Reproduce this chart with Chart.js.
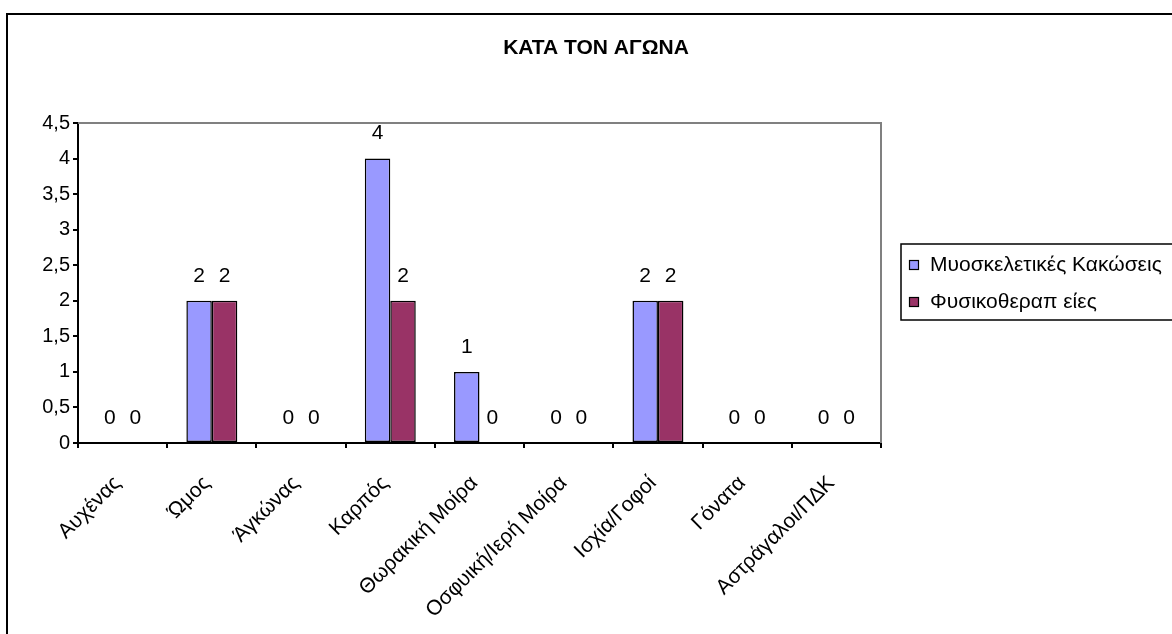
<!DOCTYPE html>
<html>
<head>
<meta charset="utf-8">
<script src="https://cdn.jsdelivr.net/npm/chart.js@4/dist/chart.umd.min.js"></script>
<style>
  html, body { margin: 0; padding: 0; background: #fff; }
  #wrap { width: 1172px; height: 634px; position: relative; }
</style>
</head>
<body>
<div id="wrap"><canvas id="c"></canvas></div>
<script>
// Injuries and physiotherapy sessions per body region, during competition
const chartTitle = 'ΚΑΤΑ ΤΟΝ ΑΓΩΝΑ';
const categories = ['Αυχένας', 'Ώμος', 'Άγκώνας', 'Καρπός', 'Θωρακική Μοίρα',
                    'Οσφυική/Ιερή Μοίρα', 'Ισχία/Γοφοί', 'Γόνατα', 'Αστράγαλοι/ΠΔΚ'];
const injuries = [0, 2, 0, 4, 1, 0, 2, 0, 0];
const physio   = [0, 2, 0, 2, 0, 0, 2, 0, 0];
const seriesNames  = ['Μυοσκελετικές Κακώσεις', 'Φυσικοθεραπ είες'];
const seriesColors = ['#9999FF', '#993366'];
const yMin = 0, yMax = 4.5, yStep = 0.5;

const FONT = '"Liberation Sans", Arial, sans-serif';
const TEXT_SIZE = 21;

// white page, outer frame, title and boxed legend
const framePlugin = {
  id: 'frame',
  beforeDraw(chart) {
    const ctx = chart.ctx;
    ctx.save();
    ctx.fillStyle = '#fff';
    ctx.fillRect(0, 0, chart.width, chart.height);
    ctx.restore();
  },
  afterDraw(chart) {
    const ctx = chart.ctx;
    ctx.save();
    // outer frame
    ctx.strokeStyle = '#000';
    ctx.lineWidth = 2;
    ctx.strokeRect(7, 14, chart.width + 20, chart.height + 20);

    // title
    ctx.fillStyle = '#000';
    ctx.font = 'bold 21px ' + FONT;
    ctx.textAlign = 'center';
    ctx.textBaseline = 'middle';
    ctx.fillText(chartTitle, 596, 48);

    // legend box
    ctx.lineWidth = 1.5;
    ctx.strokeRect(901, 244, 300, 76);
    ctx.font = TEXT_SIZE + 'px ' + FONT;
    ctx.textAlign = 'left';
    const rows = [265, 302];
    seriesNames.forEach((name, i) => {
      const y = rows[i];
      ctx.fillStyle = seriesColors[i];
      ctx.fillRect(909.5, y - 4.5, 9, 9);
      ctx.lineWidth = 1.2;
      ctx.strokeStyle = '#000';
      ctx.strokeRect(909.5, y - 4.5, 9, 9);
      ctx.fillStyle = '#000';
      ctx.fillText(name, 930, y);
    });
    ctx.restore();
  }
};

// grey plot-area edges (top and right) and value labels over the bars
const plotPlugin = {
  id: 'plotEdges',
  beforeDatasetsDraw(chart) {
    const { ctx, chartArea: a } = chart;
    ctx.save();
    ctx.strokeStyle = '#808080';
    ctx.lineWidth = 2;
    ctx.beginPath();
    ctx.moveTo(a.left, a.top);
    ctx.lineTo(a.right, a.top);
    ctx.lineTo(a.right, a.bottom);
    ctx.stroke();
    ctx.restore();
  },
  afterDatasetsDraw(chart) {
    const ctx = chart.ctx;
    ctx.save();
    ctx.fillStyle = '#000';
    ctx.font = TEXT_SIZE + 'px ' + FONT;
    ctx.textAlign = 'center';
    ctx.textBaseline = 'middle';
    chart.data.datasets.forEach((ds, di) => {
      chart.getDatasetMeta(di).data.forEach((bar, i) => {
        ctx.fillText(String(ds.data[i]).replace('.', ','), bar.x, bar.y - 25);
      });
    });
    ctx.restore();
  }
};

new Chart(document.getElementById('c'), {
  type: 'bar',
  data: {
    labels: categories,
    datasets: [
      { label: seriesNames[0], data: injuries, backgroundColor: seriesColors[0],
        borderColor: '#000', borderWidth: 1.5, borderSkipped: false },
      { label: seriesNames[1], data: physio, backgroundColor: seriesColors[1],
        borderColor: '#000', borderWidth: 1.5, borderSkipped: false }
    ]
  },
  options: {
    responsive: true,
    maintainAspectRatio: false,
    animation: false,
    layout: { padding: { left: 0, top: 123, right: 291, bottom: 0 } },
    datasets: { bar: { barPercentage: 1, categoryPercentage: 0.571 } },
    plugins: {
      legend: { display: false },
      title: { display: false },
      tooltip: { enabled: false }
    },
    scales: {
      x: {
        offset: true,
        grid: { offset: true, drawOnChartArea: false, drawTicks: true, tickLength: 5,
                color: '#000', lineWidth: 2 },
        border: { display: true, color: '#000', width: 2 },
        ticks: {
          autoSkip: false, minRotation: 45, maxRotation: 45, padding: 23, labelOffset: -5,
          color: '#000', font: { family: FONT, size: TEXT_SIZE }
        },
        afterFit(scale) {
          scale.height = 191;
          scale.paddingLeft = 0;
          scale.paddingRight = 0;
        }
      },
      y: {
        min: yMin, max: yMax,
        grid: { drawOnChartArea: false, drawTicks: true, tickLength: 5,
                color: '#000', lineWidth: 2 },
        border: { display: true, color: '#000', width: 2 },
        ticks: {
          stepSize: yStep, padding: 3, color: '#000',
          font: { family: FONT, size: 20 },
          callback: v => String(v).replace('.', ',')
        },
        afterFit(scale) {
          scale.width = 78;
          scale.paddingTop = 0;
          scale.paddingBottom = 0;
        }
      }
    }
  },
  plugins: [framePlugin, plotPlugin]
});
</script>
</body>
</html>
